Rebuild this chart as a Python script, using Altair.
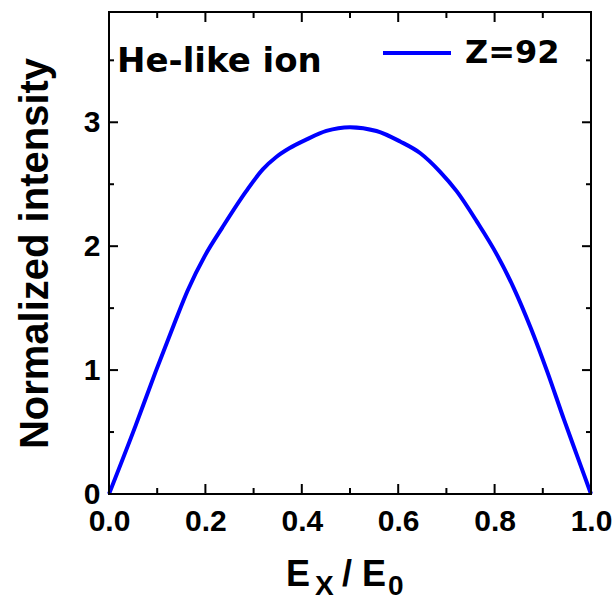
import altair as alt
import pandas as pd

# ---- data ----
ex_ratio = [0, 0.055, 0.097, 0.135, 0.163, 0.2, 0.235, 0.284, 0.319, 0.347, 0.374,
            0.409, 0.451, 0.5, 0.555, 0.604, 0.646, 0.687, 0.722, 0.763, 0.805,
            0.84, 0.875, 0.909, 0.944, 0.972, 1.0]
intensity = [0, 0.55, 0.99, 1.37, 1.64, 1.93, 2.15, 2.44, 2.62, 2.72, 2.79,
             2.86, 2.93, 2.96, 2.93, 2.845, 2.75, 2.60, 2.44, 2.20, 1.93,
             1.66, 1.34, 0.99, 0.60, 0.30, 0]
series_name = "Z=92"
annotation = "He-like ion"

x_major = [0.0, 0.2, 0.4, 0.6, 0.8, 1.0]
x_minor = [0.1, 0.3, 0.5, 0.7, 0.9]
y_major = [0, 1, 2, 3]
y_minor = [0.5, 1.5, 2.5, 3.5]

W, H = 482, 482
FONT = "Liberation Sans"
WIDE = "DejaVu Sans"
XMAX, YMAX = 1.0, 3.89

xs = alt.Scale(domain=[0, XMAX], nice=False, zero=False)
ys = alt.Scale(domain=[0, YMAX], nice=False, zero=False)

df = pd.DataFrame({"x": ex_ratio, "y": intensity, "s": [series_name] * len(ex_ratio)})

line = alt.Chart(df).mark_line(strokeWidth=4, interpolate="monotone").encode(
    x=alt.X("x:Q", scale=xs, axis=alt.Axis(
        values=x_major, format=".1f", ticks=False, domain=False, grid=False,
        labelFont=FONT, labelFontWeight="bold", labelFontSize=30, labelColor="black",
        labelPadding=12, labelFlush=False, labelOverlap=False, title=None)),
    y=alt.Y("y:Q", scale=ys, axis=alt.Axis(
        values=y_major, format="d", ticks=False, domain=False, grid=False,
        labelFont=FONT, labelFontWeight="bold", labelFontSize=30, labelColor="black",
        labelPadding=9, labelFlush=False, labelOverlap=False,
        title="Normalized intensity", titleFont=FONT, titleFontWeight="bold",
        titleFontSize=40, titleColor="black", titleX=-62, titleY=241,
        titleBaseline="alphabetic", titleAngle=270)),
    color=alt.Color("s:N", scale=alt.Scale(range=["#0000ff"]), legend=alt.Legend(
        title=None, orient="none", legendX=272, legendY=5, symbolType="stroke",
        symbolSize=4624, symbolStrokeWidth=4, labelFont=WIDE, labelFontWeight="bold",
        labelFontSize=32, labelColor="black", labelOffset=12, padding=0)),
)


def xticks(vals, length):
    d = pd.DataFrame({"v": vals})
    bot = alt.Chart(d).mark_rule(color="black", strokeWidth=2).encode(
        x=alt.X("v:Q", scale=xs), y=alt.value(H), y2=alt.value(H - length))
    top = alt.Chart(d).mark_rule(color="black", strokeWidth=2).encode(
        x=alt.X("v:Q", scale=xs), y=alt.value(0), y2=alt.value(length))
    return [bot, top]


def yticks(vals, length):
    d = pd.DataFrame({"v": vals})
    left = alt.Chart(d).mark_rule(color="black", strokeWidth=2).encode(
        y=alt.Y("v:Q", scale=ys), x=alt.value(0), x2=alt.value(length))
    right = alt.Chart(d).mark_rule(color="black", strokeWidth=2).encode(
        y=alt.Y("v:Q", scale=ys), x=alt.value(W), x2=alt.value(W - length))
    return [left, right]


one = pd.DataFrame({"k": [0]})


def label(txt, x, y, size, font=FONT):
    return alt.Chart(one).mark_text(text=txt, font=font, fontWeight="bold", fontSize=size,
                                    align="left", baseline="alphabetic", color="black").encode(
        x=alt.value(x), y=alt.value(y))


texts = [
    label(annotation, 8, 60, 34, WIDE),
    label("E", 177, 574, 36),
    label("X", 206, 583, 28),
    label("/", 233, 574, 36),
    label("E", 253, 574, 36),
    label("0", 279, 583, 28),
]

chart = alt.layer(
    line, *xticks(x_major, 10), *xticks(x_minor, 6), *yticks(y_major, 9), *yticks(y_minor, 5),
    *texts
).properties(
    width=W, height=H,
    background="white",
    autosize=alt.AutoSizeParams(type="none"),
    padding={"left": 109, "top": 12, "right": 24, "bottom": 104},
).configure_view(stroke="black", strokeWidth=2)

chart.save("out.html", embed_options={"renderer": "svg", "actions": False})
